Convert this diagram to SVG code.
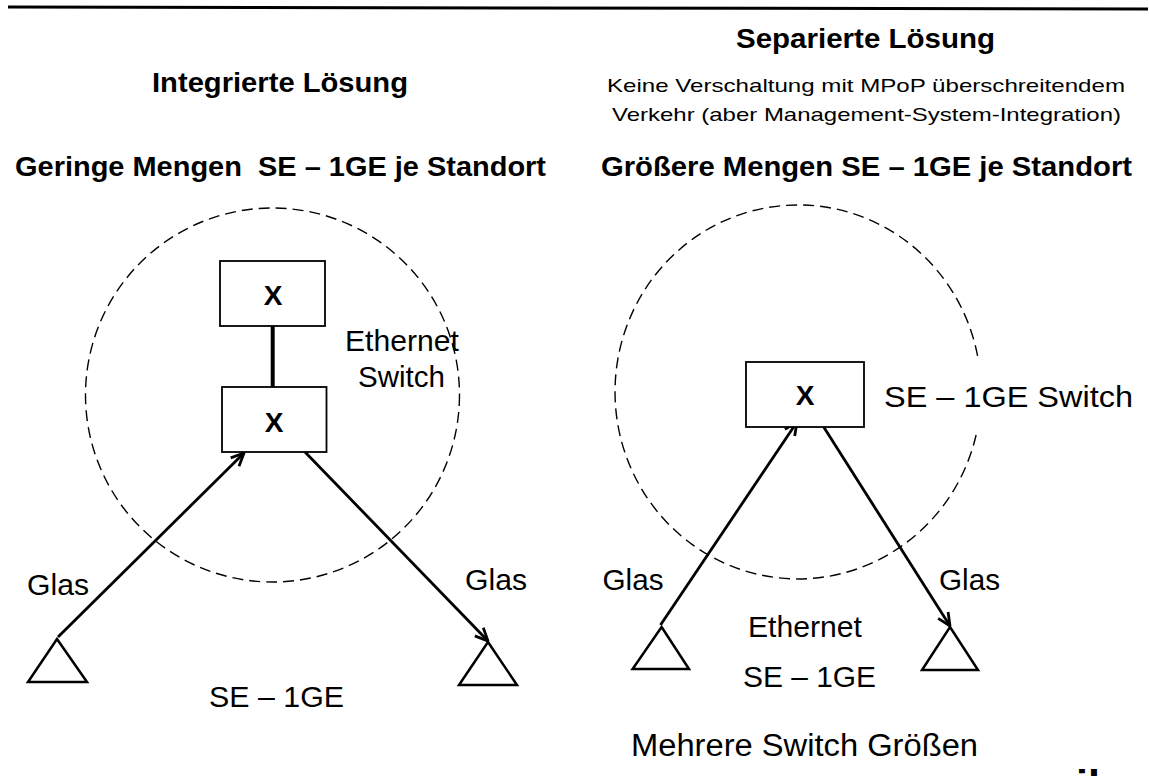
<svg xmlns="http://www.w3.org/2000/svg" width="1149" height="776" viewBox="0 0 1149 776">
<style>
text{font-family:"Liberation Sans",Arial,sans-serif;fill:#000}
.h{font-weight:bold;font-size:28px}
.s{font-size:19px}
.r{font-size:30px}
.x{font-weight:bold;font-size:28px;text-anchor:middle}
.box{fill:#fff;stroke:#000;stroke-width:1.8}
.zone{fill:none;stroke:#000;stroke-width:1.4;stroke-dasharray:11 6}
.tri{fill:#fff;stroke:#000;stroke-width:2.5}
.con{stroke:#000;stroke-width:2.8;fill:none}
.bar{stroke:#000;stroke-width:4;fill:none}
</style>
<defs>
<marker id="ah" viewBox="0 0 14 14" refX="13" refY="7" markerWidth="15" markerHeight="15" markerUnits="userSpaceOnUse" orient="auto">
<path d="M1,1.5 L13,7 L1,12.5" fill="none" stroke="#000" stroke-width="2.6"/>
</marker>
</defs>
<rect width="1149" height="776" fill="#fff"/>
<line x1="8" y1="7" x2="1148" y2="9" stroke="#000" stroke-width="3"/>

<g id="headers">
<text class="h" x="736" y="48" textLength="259" lengthAdjust="spacingAndGlyphs">Separierte Lösung</text>
<text class="h" x="152" y="92" textLength="256" lengthAdjust="spacingAndGlyphs">Integrierte Lösung</text>
<text class="s" x="607" y="92" textLength="518" lengthAdjust="spacingAndGlyphs">Keine Verschaltung mit MPoP überschreitendem</text>
<text class="s" x="612" y="121" textLength="509" lengthAdjust="spacingAndGlyphs">Verkehr (aber Management-System-Integration)</text>
<text class="h" x="15" y="176" textLength="531" lengthAdjust="spacingAndGlyphs" xml:space="preserve">Geringe Mengen  SE – 1GE je Standort</text>
<text class="h" x="601" y="176" textLength="531" lengthAdjust="spacingAndGlyphs">Größere Mengen SE – 1GE je Standort</text>
</g>

<g id="zone-left">
<circle class="zone" cx="272.5" cy="395" r="187"/>
<text class="r" x="345" y="351" textLength="114" lengthAdjust="spacingAndGlyphs">Ethernet</text>
<text class="r" x="358" y="387" textLength="87" lengthAdjust="spacingAndGlyphs">Switch</text>
</g>

<g id="zone-right">
<path class="zone" d="M976.1,435 A183,187 0 1 1 977.8,357"/>
<text class="r" x="884" y="407" textLength="249" lengthAdjust="spacingAndGlyphs">SE – 1GE Switch</text>
</g>

<g id="connectors">
<line class="bar" x1="272.7" y1="326" x2="272.7" y2="387"/>
<line class="con" x1="58" y1="637" x2="244" y2="453" marker-end="url(#ah)"/>
<line class="con" x1="305" y1="452" x2="488" y2="641" marker-end="url(#ah)"/>
<line class="con" x1="660.5" y1="625" x2="797" y2="422" marker-end="url(#ah)"/>
<line class="con" x1="818" y1="418" x2="950" y2="626" marker-end="url(#ah)"/>
</g>

<g id="switch-top">
<rect class="box" x="220" y="261" width="105" height="65"/>
<text class="x" x="273" y="305">X</text>
</g>
<g id="switch-bottom">
<rect class="box" x="222" y="387" width="104.5" height="65"/>
<text class="x" x="274" y="432">X</text>
</g>
<g id="switch-right">
<rect class="box" x="746" y="362" width="118" height="65"/>
<text class="x" x="805" y="405">X</text>
</g>

<g id="site-left-a"><polygon class="tri" points="57,639 87,682 28,682"/></g>
<g id="site-left-b"><polygon class="tri" points="488,642 517,685 459,685"/></g>
<g id="site-right-a"><polygon class="tri" points="661.6,627 689,669 632.6,669"/></g>
<g id="site-right-b"><polygon class="tri" points="950,627 978,670 922,670"/></g>

<g id="labels">
<text class="r" x="27" y="595" textLength="62" lengthAdjust="spacingAndGlyphs">Glas</text>
<text class="r" x="465" y="590" textLength="62" lengthAdjust="spacingAndGlyphs">Glas</text>
<text class="r" x="209" y="707" textLength="135" lengthAdjust="spacingAndGlyphs">SE – 1GE</text>
<text class="r" x="602.5" y="590" textLength="61" lengthAdjust="spacingAndGlyphs">Glas</text>
<text class="r" x="939" y="590" textLength="61" lengthAdjust="spacingAndGlyphs">Glas</text>
<text class="r" x="748" y="637" textLength="114" lengthAdjust="spacingAndGlyphs">Ethernet</text>
<text class="r" x="743" y="687" textLength="133" lengthAdjust="spacingAndGlyphs">SE – 1GE</text>
<text class="r" x="631" y="756" style="font-size:31px" textLength="347" lengthAdjust="spacingAndGlyphs">Mehrere Switch Größen</text>
<text x="1076" y="800" style="font-weight:bold;font-size:43px">il</text>
</g>
</svg>
